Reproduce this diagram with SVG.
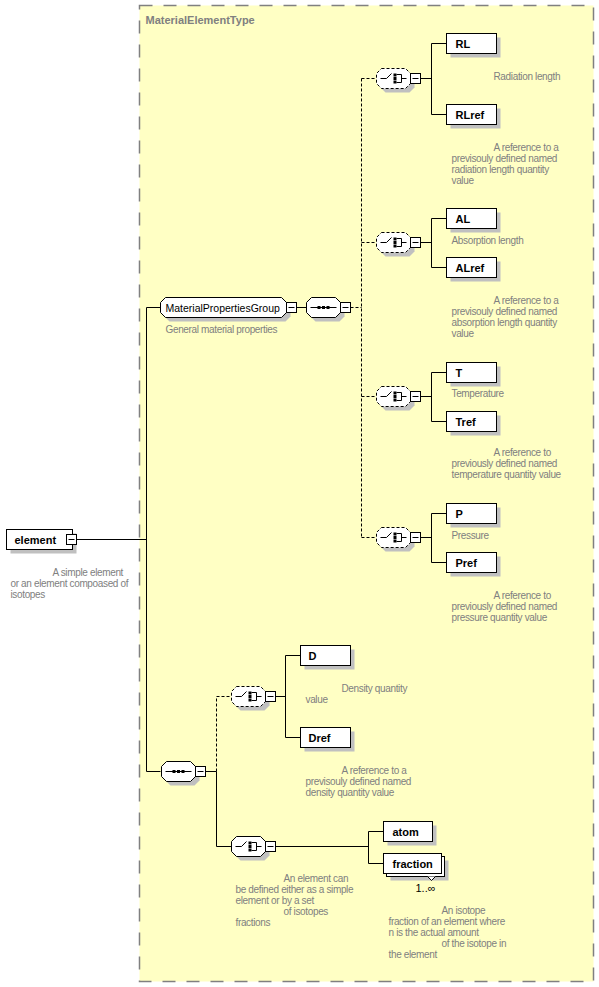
<svg xmlns="http://www.w3.org/2000/svg" xmlns:xlink="http://www.w3.org/1999/xlink" width="599" height="987" viewBox="0 0 599 987">
<style>
.box{fill:#fff;stroke:#000;stroke-width:1}
.sh{fill:#c0c0c0;stroke:none}
.lbl{font-family:"Liberation Sans",Arial,sans-serif;font-size:11px;font-weight:bold;fill:#000}
.grp{font-family:"Liberation Sans",Arial,sans-serif;font-size:10.5px;fill:#000}
.desc{font-family:"Liberation Sans",Arial,sans-serif;font-size:10px;letter-spacing:-0.35px;fill:#808080}
.title{font-family:"Liberation Sans",Arial,sans-serif;font-size:11px;font-weight:bold;fill:#808080}
.con{fill:none;stroke:#000;stroke-width:1}
.dash{fill:none;stroke:#000;stroke-width:1;stroke-dasharray:3,2}
.cmp{fill:#fff;stroke:#000;stroke-width:1}
.cmpd{fill:#fff;stroke:#000;stroke-width:1;stroke-dasharray:3,2}
.ico{fill:none;stroke:#000;stroke-width:1}
</style>
<defs>
<path id="oct" d="M5,-10 H29 L34,-5 V5 L29,10 H5 L0,5 V-5 Z"/>
<g id="minus"><rect x="0" y="-5" width="10" height="10" fill="#fff" stroke="#000"/><line x1="2" y1="0" x2="8" y2="0" stroke="#000"/></g>
<g id="choiceIcon">
<path class="ico" d="M4,0 H10 L15,-5 M20,-4 H25 V4 H20 M25,0 H30"/>
<rect x="17" y="-5" width="3" height="3" fill="#000"/>
<rect x="17" y="-1.5" width="3" height="3" fill="#000"/>
<rect x="17" y="2" width="3" height="3" fill="#000"/>
</g>
<g id="seqIcon">
<path class="ico" d="M4,0 H30"/>
<rect x="11" y="-1.5" width="3" height="3" fill="#000"/>
<rect x="15.5" y="-1.5" width="3" height="3" fill="#000"/>
<rect x="20" y="-1.5" width="3" height="3" fill="#000"/>
</g>
</defs>
<g transform="translate(0.5 0.5)">
<g id="MaterialElementType">
<rect x="139" y="5" width="454" height="976" fill="#ffffc4" stroke="#808080" stroke-width="1.5" stroke-dasharray="13,11"/>
<text class="title" x="145" y="23">MaterialElementType</text>
</g>

<g id="connectors">
<path class="con" d="M76,539 H146 M146,307 V771 M146,307 H160 M146,771 H160"/>
<path class="con" d="M296,307 H306"/>
<path class="dash" d="M350,307 H361 M361,78 V537 M361,78 H376 M361,242 H376 M361,396 H376 M361,537 H376"/>
<path class="con" d="M420,78 H431 M431,43 V114 M431,43 H446 M431,114 H446"/>
<path class="con" d="M420,242 H431 M431,218 V267 M431,218 H446 M431,267 H446"/>
<path class="con" d="M420,396 H431 M431,372 V421 M431,372 H446 M431,421 H446"/>
<path class="con" d="M420,537 H431 M431,513 V562 M431,513 H446 M431,562 H446"/>
<path class="con" d="M205,771 H216 M216,771 V846 H231"/>
<path class="dash" d="M216,771 V696 H231"/>
<path class="con" d="M275,696 H285 M285,655 V737 M285,655 H300 M285,737 H300"/>
<path class="con" d="M275,846 H368 M368,831 V863 M368,831 H383 M368,863 H383"/>
</g>

<g id="element">
<rect class="sh" x="10" y="533" width="66" height="20"/>
<rect class="box" x="6" y="529" width="66" height="20"/>
<text class="lbl" x="14" y="543">element</text>
<use xlink:href="#minus" x="66" y="539"/>
<text class="desc"><tspan x="52" y="575">A simple element</tspan><tspan x="10" y="586">or an element compoased of</tspan><tspan x="10" y="597">isotopes</tspan></text>
</g>

<g id="MaterialPropertiesGroup">
<path class="sh" d="M169,301 H285 L290,306 V316 L285,321 H169 L164,316 V306 Z"/>
<path class="cmp" d="M165,297 H281 L286,302 V312 L281,317 H165 L160,312 V302 Z"/>
<text class="grp" x="165" y="311">MaterialPropertiesGroup</text>
<use xlink:href="#minus" x="286" y="307"/>
<text class="desc" x="165" y="332">General material properties</text>
</g>

<g id="sequence1">
<use xlink:href="#oct" class="sh" x="310" y="311"/>
<use xlink:href="#oct" class="cmp" x="306" y="307"/>
<use xlink:href="#seqIcon" x="306" y="307"/>
<use xlink:href="#minus" x="340" y="307"/>
</g>

<g id="choiceRL">
<use xlink:href="#oct" class="sh" x="380" y="82"/>
<use xlink:href="#oct" class="cmpd" x="376" y="78"/>
<use xlink:href="#choiceIcon" x="376" y="78"/>
<use xlink:href="#minus" x="410" y="78"/>
</g>
<g id="RL">
<rect class="sh" x="450" y="37" width="50" height="20"/>
<rect class="box" x="446" y="33" width="50" height="20"/>
<text class="lbl" x="455" y="47">RL</text>
<text class="desc" x="493" y="79">Radiation length</text>
</g>
<g id="RLref">
<rect class="sh" x="450" y="108" width="50" height="20"/>
<rect class="box" x="446" y="104" width="50" height="20"/>
<text class="lbl" x="455" y="118">RLref</text>
<text class="desc"><tspan x="493" y="150">A reference to a</tspan><tspan x="451" y="161">previsouly defined named</tspan><tspan x="451" y="172">radiation length quantity</tspan><tspan x="451" y="183">value</tspan></text>
</g>

<g id="choiceAL">
<use xlink:href="#oct" class="sh" x="380" y="246"/>
<use xlink:href="#oct" class="cmpd" x="376" y="242"/>
<use xlink:href="#choiceIcon" x="376" y="242"/>
<use xlink:href="#minus" x="410" y="242"/>
</g>
<g id="AL">
<rect class="sh" x="450" y="212" width="50" height="20"/>
<rect class="box" x="446" y="208" width="50" height="20"/>
<text class="lbl" x="455" y="222">AL</text>
<text class="desc" x="451" y="243">Absorption length</text>
</g>
<g id="ALref">
<rect class="sh" x="450" y="261" width="50" height="20"/>
<rect class="box" x="446" y="257" width="50" height="20"/>
<text class="lbl" x="455" y="271">ALref</text>
<text class="desc"><tspan x="493" y="303">A reference to a</tspan><tspan x="451" y="314">previsouly defined named</tspan><tspan x="451" y="325">absorption length quantity</tspan><tspan x="451" y="336">value</tspan></text>
</g>

<g id="choiceT">
<use xlink:href="#oct" class="sh" x="380" y="400"/>
<use xlink:href="#oct" class="cmpd" x="376" y="396"/>
<use xlink:href="#choiceIcon" x="376" y="396"/>
<use xlink:href="#minus" x="410" y="396"/>
</g>
<g id="T">
<rect class="sh" x="450" y="366" width="50" height="20"/>
<rect class="box" x="446" y="362" width="50" height="20"/>
<text class="lbl" x="455" y="376">T</text>
<text class="desc" x="451" y="396">Temperature</text>
</g>
<g id="Tref">
<rect class="sh" x="450" y="415" width="50" height="20"/>
<rect class="box" x="446" y="411" width="50" height="20"/>
<text class="lbl" x="455" y="425">Tref</text>
<text class="desc"><tspan x="493" y="455">A reference to</tspan><tspan x="451" y="466">previously defined named</tspan><tspan x="451" y="477">temperature quantity value</tspan></text>
</g>

<g id="choiceP">
<use xlink:href="#oct" class="sh" x="380" y="541"/>
<use xlink:href="#oct" class="cmpd" x="376" y="537"/>
<use xlink:href="#choiceIcon" x="376" y="537"/>
<use xlink:href="#minus" x="410" y="537"/>
</g>
<g id="P">
<rect class="sh" x="450" y="507" width="50" height="20"/>
<rect class="box" x="446" y="503" width="50" height="20"/>
<text class="lbl" x="455" y="517">P</text>
<text class="desc" x="451" y="538">Pressure</text>
</g>
<g id="Pref">
<rect class="sh" x="450" y="556" width="50" height="20"/>
<rect class="box" x="446" y="552" width="50" height="20"/>
<text class="lbl" x="455" y="566">Pref</text>
<text class="desc"><tspan x="493" y="598">A reference to</tspan><tspan x="451" y="609">previously defined named</tspan><tspan x="451" y="620">pressure quantity value</tspan></text>
</g>

<g id="sequence2">
<use xlink:href="#oct" class="sh" x="165" y="775"/>
<use xlink:href="#oct" class="cmp" x="161" y="771"/>
<use xlink:href="#seqIcon" x="161" y="771"/>
<use xlink:href="#minus" x="195" y="771"/>
</g>

<g id="choiceD">
<use xlink:href="#oct" class="sh" x="235" y="700"/>
<use xlink:href="#oct" class="cmpd" x="231" y="696"/>
<use xlink:href="#choiceIcon" x="231" y="696"/>
<use xlink:href="#minus" x="265" y="696"/>
</g>
<g id="D">
<rect class="sh" x="304" y="649" width="50" height="20"/>
<rect class="box" x="300" y="645" width="50" height="20"/>
<text class="lbl" x="308" y="659">D</text>
<text class="desc"><tspan x="341" y="691">Density quantity</tspan><tspan x="305" y="702">value</tspan></text>
</g>
<g id="Dref">
<rect class="sh" x="304" y="731" width="50" height="20"/>
<rect class="box" x="300" y="727" width="50" height="20"/>
<text class="lbl" x="308" y="741">Dref</text>
<text class="desc"><tspan x="341" y="773">A reference to a</tspan><tspan x="305" y="784">previsouly defined named</tspan><tspan x="305" y="795">density quantity value</tspan></text>
</g>

<g id="choiceAtom">
<use xlink:href="#oct" class="sh" x="235" y="850"/>
<use xlink:href="#oct" class="cmp" x="231" y="846"/>
<use xlink:href="#choiceIcon" x="231" y="846"/>
<use xlink:href="#minus" x="265" y="846"/>
<text class="desc"><tspan x="283" y="881">An element can</tspan><tspan x="235" y="892">be defined either as a simple</tspan><tspan x="235" y="903">element or by a set</tspan><tspan x="283" y="914">of isotopes</tspan><tspan x="235" y="925">fractions</tspan></text>
</g>
<g id="atom">
<rect class="sh" x="387" y="825" width="49" height="20"/>
<rect class="box" x="383" y="821" width="49" height="20"/>
<text class="lbl" x="392" y="835">atom</text>
</g>
<g id="fraction">
<rect class="sh" x="390" y="860" width="58" height="20"/>
<rect class="box" x="386" y="856" width="58" height="20"/>
<rect class="box" x="383" y="853" width="58" height="20"/>
<text class="lbl" x="392" y="867">fraction</text>
<path d="M427,876 L431,880 L435,876" fill="#fff" stroke="#000"/>
<text x="415" y="891" font-family="'Liberation Sans',Arial,sans-serif" font-size="11px" fill="#000">1..∞</text>
<text class="desc"><tspan x="441" y="913">An isotope</tspan><tspan x="388" y="924">fraction of an element where</tspan><tspan x="388" y="935">n is the actual amount</tspan><tspan x="441" y="946">of the isotope in</tspan><tspan x="388" y="957">the element</tspan></text>
</g>
</g>
</svg>
